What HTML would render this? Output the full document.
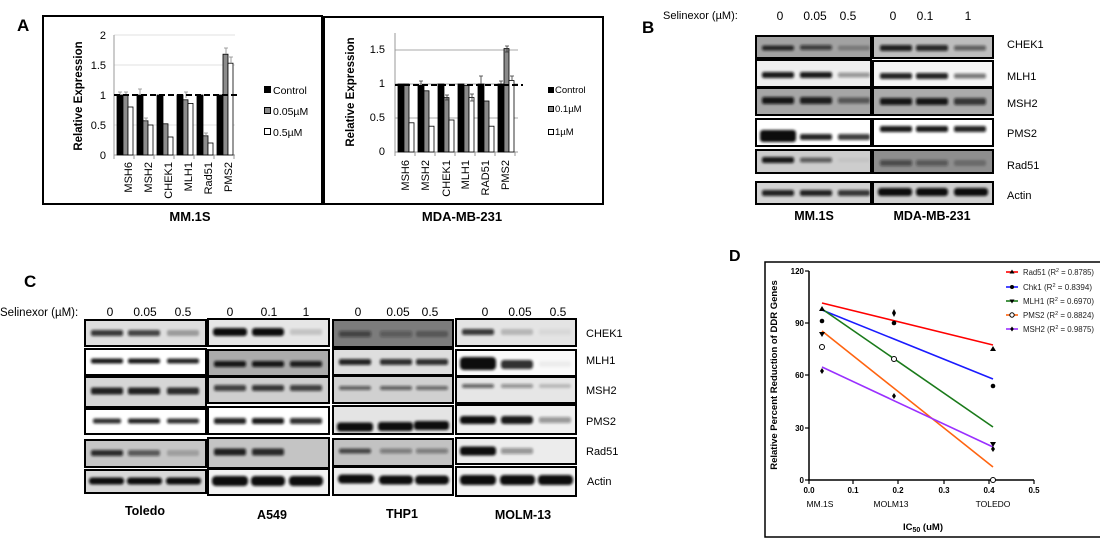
<!DOCTYPE html>
<html><head><meta charset="utf-8"><style>
html,body{margin:0;padding:0;background:#fff;}
svg{display:block;font-family:"Liberation Sans",Arial,sans-serif;}
</style></head><body>
<svg width="1100" height="538" viewBox="0 0 1100 538" xmlns="http://www.w3.org/2000/svg">
<defs>
<filter id="bl" x="-20%" y="-80%" width="140%" height="260%"><feGaussianBlur stdDeviation="1.2"/></filter>
</defs>
<rect width="1100" height="538" fill="#fff"/>

<!-- ============ PANEL A ============ -->
<text x="17" y="31" font-size="17" font-weight="bold">A</text>
<rect x="43" y="16" width="279" height="188" fill="none" stroke="#000" stroke-width="2"/>
<rect x="324" y="17" width="279" height="187" fill="none" stroke="#000" stroke-width="2"/>

<!-- left chart -->
<g stroke="#e2e2e2" stroke-width="1">
<line x1="114" y1="35" x2="235" y2="35"/><line x1="114" y1="65" x2="235" y2="65"/><line x1="114" y1="125" x2="235" y2="125"/>
</g>
<line x1="114" y1="35" x2="114" y2="155" stroke="#999" stroke-width="1"/>
<line x1="114" y1="155" x2="235" y2="155" stroke="#999" stroke-width="1"/>
<g stroke="#999"><line x1="114" y1="155" x2="114" y2="159"/><line x1="134" y1="155" x2="134" y2="159"/><line x1="154" y1="155" x2="154" y2="159"/><line x1="174" y1="155" x2="174" y2="159"/><line x1="194" y1="155" x2="194" y2="159"/><line x1="214" y1="155" x2="214" y2="159"/><line x1="234" y1="155" x2="234" y2="159"/></g>
<g stroke="#000" stroke-width="0.8">
<rect x="117" y="95" width="6" height="60" fill="#000"/><rect x="123" y="95" width="5" height="60" fill="#8c8c8c"/><rect x="128" y="107" width="5" height="48" fill="#fff"/>
<rect x="137" y="95" width="6" height="60" fill="#000"/><rect x="143" y="120.8" width="5" height="34.2" fill="#8c8c8c"/><rect x="148" y="125" width="5" height="30" fill="#fff"/>
<rect x="157" y="95" width="6" height="60" fill="#000"/><rect x="163" y="123.8" width="5" height="31.2" fill="#8c8c8c"/><rect x="168" y="137" width="5" height="18" fill="#fff"/>
<rect x="177" y="95" width="6" height="60" fill="#000"/><rect x="183" y="99.8" width="5" height="55.2" fill="#8c8c8c"/><rect x="188" y="103.4" width="5" height="51.6" fill="#fff"/>
<rect x="197" y="95" width="6" height="60" fill="#000"/><rect x="203" y="135.8" width="5" height="19.2" fill="#8c8c8c"/><rect x="208" y="143" width="5" height="12" fill="#fff"/>
<rect x="217" y="95" width="6" height="60" fill="#000"/><rect x="223" y="54.2" width="5" height="100.8" fill="#8c8c8c"/><rect x="228" y="63.2" width="5" height="91.8" fill="#fff"/>
</g>
<g stroke="#888" stroke-width="0.8" fill="none">
<path d="M118 92h4M120 92v3M124 92h4M126 92v3M138 89h4M140 89v6M184 92h4M186 92v6M224 48h4M226 48v6M229 57h4M231 57v6M144 118h4M146 118v3M204 133h4M206 133v3"/>
</g>
<line x1="114" y1="95" x2="240" y2="95" stroke="#000" stroke-width="2" stroke-dasharray="6,3"/>
<g font-size="11" text-anchor="end">
<text x="106" y="39">2</text><text x="106" y="69">1.5</text><text x="106" y="99">1</text><text x="106" y="129">0.5</text><text x="106" y="159">0</text>
</g>
<text transform="translate(82,96) rotate(-90)" font-size="11.5" font-weight="bold" text-anchor="middle">Relative Expression</text>
<g font-size="11" text-anchor="end">
<text transform="translate(132,162) rotate(-90)">MSH6</text>
<text transform="translate(152,162) rotate(-90)">MSH2</text>
<text transform="translate(172,162) rotate(-90)">CHEK1</text>
<text transform="translate(192,162) rotate(-90)">MLH1</text>
<text transform="translate(212,162) rotate(-90)">Rad51</text>
<text transform="translate(232,162) rotate(-90)">PMS2</text>
</g>
<rect x="264" y="86" width="7" height="7" fill="#000"/>
<rect x="264.5" y="107.5" width="6" height="6" fill="#8c8c8c" stroke="#000" stroke-width="1"/>
<rect x="264.5" y="128.5" width="6" height="6" fill="#fff" stroke="#000" stroke-width="1"/>
<g font-size="10.5"><text x="273" y="94">Control</text><text x="273" y="115">0.05µM</text><text x="273" y="136">0.5µM</text></g>

<!-- right chart -->
<g stroke="#a8a8a8" stroke-width="1">
<line x1="395" y1="50" x2="518" y2="50"/><line x1="395" y1="84" x2="518" y2="84"/><line x1="395" y1="118" x2="518" y2="118"/>
</g>
<line x1="395" y1="33" x2="395" y2="152" stroke="#999" stroke-width="1"/>
<line x1="395" y1="152" x2="518" y2="152" stroke="#999" stroke-width="1"/>
<g stroke="#999"><line x1="395" y1="152" x2="395" y2="156"/><line x1="415" y1="152" x2="415" y2="156"/><line x1="435" y1="152" x2="435" y2="156"/><line x1="455" y1="152" x2="455" y2="156"/><line x1="475" y1="152" x2="475" y2="156"/><line x1="495" y1="152" x2="495" y2="156"/><line x1="515" y1="152" x2="515" y2="156"/></g>
<g stroke="#000" stroke-width="0.8">
<rect x="398" y="84" width="6" height="68" fill="#000"/><rect x="404" y="84" width="5" height="68" fill="#8a8a8a"/><rect x="409" y="122.8" width="5" height="29.2" fill="#fff"/>
<rect x="418" y="85.4" width="6" height="66.6" fill="#000"/><rect x="424" y="90.8" width="5" height="61.2" fill="#8a8a8a"/><rect x="429" y="126.2" width="5" height="25.8" fill="#fff"/>
<rect x="438" y="84" width="6" height="68" fill="#000"/><rect x="444" y="97.6" width="5" height="54.4" fill="#8a8a8a"/><rect x="449" y="120" width="5" height="32" fill="#fff"/>
<rect x="458" y="84" width="6" height="68" fill="#000"/><rect x="464" y="85.4" width="5" height="66.6" fill="#8a8a8a"/><rect x="469" y="97.6" width="5" height="54.4" fill="#fff"/>
<rect x="478" y="84" width="6" height="68" fill="#000"/><rect x="484" y="101" width="5" height="51" fill="#8a8a8a"/><rect x="489" y="126.2" width="5" height="25.8" fill="#fff"/>
<rect x="498" y="84" width="6" height="68" fill="#000"/><rect x="504" y="48.6" width="5" height="103.4" fill="#8a8a8a"/><rect x="509" y="80.6" width="5" height="71.4" fill="#fff"/>
</g>
<g stroke="#333" stroke-width="0.8" fill="none">
<path d="M419 81h4M421 81v4M479 76h4M481 76v8M505 46h4M505 52h4M507 46v6M510 76h4M512 76v5M499 81h4M501 81v3M445 95h4M445 100h4M447 95v5M470 94h4M470 101h4M472 94v7"/>
</g>
<line x1="395" y1="85" x2="523" y2="85" stroke="#000" stroke-width="2" stroke-dasharray="6,3"/>
<g font-size="11" text-anchor="end">
<text x="385" y="53">1.5</text><text x="385" y="87">1</text><text x="385" y="121">0.5</text><text x="385" y="155">0</text>
</g>
<text transform="translate(354,92) rotate(-90)" font-size="11.5" font-weight="bold" text-anchor="middle">Relative Expression</text>
<g font-size="11" text-anchor="end">
<text transform="translate(409,160) rotate(-90)">MSH6</text>
<text transform="translate(429,160) rotate(-90)">MSH2</text>
<text transform="translate(450,160) rotate(-90)">CHEK1</text>
<text transform="translate(469,160) rotate(-90)">MLH1</text>
<text transform="translate(489,160) rotate(-90)">RAD51</text>
<text transform="translate(509,160) rotate(-90)">PMS2</text>
</g>
<rect x="548" y="87" width="6" height="6" fill="#000"/>
<rect x="548.5" y="106.5" width="5" height="5" fill="#8a8a8a" stroke="#000" stroke-width="1"/>
<rect x="548.5" y="129.5" width="5" height="5" fill="#fff" stroke="#000" stroke-width="1"/>
<g font-size="9.5"><text x="555" y="93">Control</text><text x="555" y="112">0.1µM</text><text x="555" y="135">1µM</text></g>

<g font-size="13" font-weight="bold" text-anchor="middle">
<text x="190" y="221">MM.1S</text><text x="462" y="221">MDA-MB-231</text>
</g>

<!-- ============ PANEL B ============ -->
<text x="642" y="33" font-size="17" font-weight="bold">B</text>
<text x="663" y="19" font-size="11">Selinexor (µM):</text>
<g font-size="12" text-anchor="middle">
<text x="780" y="20">0</text><text x="815" y="20">0.05</text><text x="848" y="20">0.5</text>
<text x="893" y="20">0</text><text x="925" y="20">0.1</text><text x="968" y="20">1</text>
</g>
<g stroke="#000" stroke-width="2">
<rect x="756" y="36" width="115" height="22" fill="#a2a2a2"/><rect x="873" y="36" width="120" height="22" fill="#bdbdbd"/>
<rect x="756" y="60" width="115" height="27" fill="#efefef"/><rect x="873" y="61" width="120" height="26" fill="#f6f6f6"/>
<rect x="756" y="88" width="115" height="27" fill="#a6a6a6"/><rect x="873" y="88" width="120" height="27" fill="#ababab"/>
<rect x="756" y="119" width="115" height="27" fill="#fff"/><rect x="873" y="119" width="120" height="27" fill="#fff"/>
<rect x="756" y="150" width="115" height="23" fill="#cdcdcd"/><rect x="873" y="150" width="120" height="23" fill="#8e8e8e"/>
<rect x="756" y="182" width="115" height="22" fill="#d3d3d3"/><rect x="873" y="182" width="120" height="22" fill="#cfcfcf"/>
</g>
<g fill="#111" filter="url(#bl)">
<rect x="762" y="45.5" width="32" height="5" rx="2" opacity=".85"/><rect x="800" y="45" width="32" height="5" rx="2" opacity=".7"/><rect x="838" y="45.5" width="32" height="5" rx="2" opacity=".25"/>
<rect x="880" y="45" width="32" height="6" rx="2" opacity=".9"/><rect x="916" y="45" width="32" height="6" rx="2" opacity=".85"/><rect x="954" y="45.5" width="32" height="5" rx="2" opacity=".55"/>
<rect x="762" y="72" width="32" height="6" rx="2" opacity=".95"/><rect x="800" y="72" width="32" height="6" rx="2" opacity=".95"/><rect x="838" y="72.5" width="32" height="5" rx="2" opacity=".4"/>
<rect x="880" y="73" width="32" height="6" rx="2" opacity=".9"/><rect x="916" y="73" width="32" height="6" rx="2" opacity=".9"/><rect x="954" y="73.5" width="32" height="5" rx="2" opacity=".55"/>
<rect x="762" y="97" width="32" height="7" rx="2" opacity=".95"/><rect x="800" y="97" width="32" height="7" rx="2" opacity=".9"/><rect x="838" y="97.5" width="32" height="6" rx="2" opacity=".55"/>
<rect x="880" y="98" width="32" height="7" rx="2" opacity=".95"/><rect x="916" y="98" width="32" height="7" rx="2" opacity=".95"/><rect x="954" y="98" width="32" height="7" rx="2" opacity=".75"/>
<rect x="760" y="130" width="36" height="12" rx="3" opacity="1"/><rect x="800" y="134" width="32" height="6" rx="2" opacity=".9"/><rect x="838" y="134" width="32" height="6" rx="2" opacity=".8"/>
<rect x="880" y="126" width="32" height="6" rx="2" opacity=".95"/><rect x="916" y="126" width="32" height="6" rx="2" opacity=".95"/><rect x="954" y="126" width="32" height="6" rx="2" opacity=".9"/>
<rect x="762" y="157" width="32" height="6" rx="2" opacity=".95"/><rect x="800" y="157.5" width="32" height="5" rx="2" opacity=".6"/><rect x="838" y="158" width="32" height="4" rx="2" opacity=".05"/>
<rect x="880" y="160" width="32" height="6" rx="2" opacity=".55"/><rect x="916" y="160" width="32" height="6" rx="2" opacity=".45"/><rect x="954" y="160" width="32" height="6" rx="2" opacity=".25"/>
<rect x="762" y="190" width="32" height="6" rx="2" opacity=".9"/><rect x="800" y="190" width="32" height="6" rx="2" opacity=".9"/><rect x="838" y="190" width="32" height="6" rx="2" opacity=".8"/>
<rect x="878" y="188" width="34" height="8" rx="3" opacity="1"/><rect x="916" y="188" width="32" height="8" rx="3" opacity="1"/><rect x="954" y="188" width="34" height="8" rx="3" opacity="1"/>
</g>
<g font-size="11">
<text x="1007" y="48">CHEK1</text><text x="1007" y="80">MLH1</text><text x="1007" y="107">MSH2</text>
<text x="1007" y="137">PMS2</text><text x="1007" y="169">Rad51</text><text x="1007" y="199">Actin</text>
</g>
<g font-size="12.5" font-weight="bold" text-anchor="middle">
<text x="814" y="220">MM.1S</text><text x="932" y="220">MDA-MB-231</text>
</g>

<!-- ============ PANEL C ============ -->
<text x="24" y="287" font-size="17" font-weight="bold">C</text>
<text x="0" y="316" font-size="11.5">Selinexor (µM):</text>
<g font-size="12" text-anchor="middle">
<text x="110" y="316">0</text><text x="145" y="316">0.05</text><text x="183" y="316">0.5</text>
<text x="230" y="316">0</text><text x="269" y="316">0.1</text><text x="306" y="316">1</text>
<text x="358" y="316">0</text><text x="398" y="316">0.05</text><text x="430" y="316">0.5</text>
<text x="485" y="316">0</text><text x="520" y="316">0.05</text><text x="558" y="316">0.5</text>
</g>
<g stroke="#000" stroke-width="2">
<rect x="85" y="320" width="121" height="26" fill="#dedede"/><rect x="208" y="319" width="121" height="27" fill="#e6e6e6"/><rect x="333" y="320" width="120" height="27" fill="#7c7c7c"/><rect x="456" y="319" width="120" height="27" fill="#e4e4e4"/>
<rect x="85" y="349" width="121" height="26" fill="#fff"/><rect x="208" y="350" width="121" height="26" fill="#ababab"/><rect x="333" y="349" width="120" height="26" fill="#dedede"/><rect x="456" y="350" width="120" height="26" fill="#fafafa"/>
<rect x="85" y="377" width="121" height="30" fill="#d6d6d6"/><rect x="208" y="377" width="121" height="26" fill="#cfcfcf"/><rect x="333" y="376" width="120" height="27" fill="#d0d0d0"/><rect x="456" y="377" width="120" height="26" fill="#e6e6e6"/>
<rect x="85" y="409" width="121" height="25" fill="#fff"/><rect x="208" y="407" width="121" height="27" fill="#fff"/><rect x="333" y="406" width="120" height="28" fill="#e4e4e4"/><rect x="456" y="405" width="120" height="29" fill="#f0f0f0"/>
<rect x="85" y="440" width="121" height="27" fill="#c6c6c6"/><rect x="208" y="438" width="121" height="30" fill="#c4c4c4"/><rect x="333" y="439" width="120" height="27" fill="#c2c2c2"/><rect x="456" y="438" width="120" height="26" fill="#ececec"/>
<rect x="85" y="470" width="121" height="23" fill="#d8d8d8"/><rect x="208" y="469" width="121" height="26" fill="#f2f2f2"/><rect x="333" y="467" width="120" height="28" fill="#efefef"/><rect x="456" y="467" width="120" height="29" fill="#f4f4f4"/>
</g>
<g fill="#111" filter="url(#bl)">
<!-- Toledo -->
<rect x="91" y="330" width="32" height="6" rx="2" opacity=".8"/><rect x="128" y="330" width="32" height="6" rx="2" opacity=".75"/><rect x="167" y="330" width="32" height="6" rx="2" opacity=".3"/>
<rect x="91" y="358.5" width="32" height="5" rx="2" opacity=".95"/><rect x="128" y="358.5" width="32" height="5" rx="2" opacity=".95"/><rect x="167" y="358.5" width="32" height="5" rx="2" opacity=".9"/>
<rect x="91" y="387.5" width="32" height="7" rx="2" opacity=".9"/><rect x="128" y="387.5" width="32" height="7" rx="2" opacity=".9"/><rect x="167" y="387.5" width="32" height="7" rx="2" opacity=".85"/>
<rect x="93" y="418.5" width="28" height="5" rx="2" opacity=".85"/><rect x="128" y="418.5" width="32" height="5" rx="2" opacity=".9"/><rect x="167" y="418.5" width="32" height="5" rx="2" opacity=".85"/>
<rect x="91" y="450" width="32" height="6" rx="2" opacity=".85"/><rect x="128" y="450" width="32" height="6" rx="2" opacity=".6"/><rect x="167" y="450" width="32" height="6" rx="2" opacity=".2"/>
<rect x="89" y="477.5" width="35" height="7" rx="3" opacity="1"/><rect x="127" y="477.5" width="35" height="7" rx="3" opacity="1"/><rect x="166" y="477.5" width="35" height="7" rx="3" opacity="1"/>
<!-- A549 -->
<rect x="213" y="328" width="34" height="8" rx="3" opacity="1"/><rect x="252" y="328" width="32" height="8" rx="3" opacity="1"/><rect x="290" y="329" width="32" height="6" rx="2" opacity=".15"/>
<rect x="214" y="361" width="32" height="6" rx="2" opacity=".95"/><rect x="252" y="361" width="32" height="6" rx="2" opacity=".95"/><rect x="290" y="361" width="32" height="6" rx="2" opacity=".9"/>
<rect x="214" y="385" width="32" height="6" rx="2" opacity=".75"/><rect x="252" y="385" width="32" height="6" rx="2" opacity=".8"/><rect x="290" y="385" width="32" height="6" rx="2" opacity=".75"/>
<rect x="214" y="418" width="32" height="6" rx="2" opacity=".9"/><rect x="252" y="418" width="32" height="6" rx="2" opacity=".95"/><rect x="290" y="418" width="32" height="6" rx="2" opacity=".85"/>
<rect x="214" y="448.5" width="32" height="7" rx="2" opacity=".9"/><rect x="252" y="448.5" width="32" height="7" rx="2" opacity=".85"/>
<rect x="212" y="476" width="36" height="10" rx="4" opacity="1"/><rect x="251" y="476" width="34" height="10" rx="4" opacity="1"/><rect x="289" y="476" width="34" height="10" rx="4" opacity="1"/>
<!-- THP1 -->
<rect x="339" y="331" width="32" height="6" rx="2" opacity=".55"/><rect x="380" y="331" width="32" height="6" rx="2" opacity=".35"/><rect x="416" y="331" width="32" height="6" rx="2" opacity=".3"/>
<rect x="339" y="359" width="32" height="6" rx="2" opacity=".9"/><rect x="380" y="359" width="32" height="6" rx="2" opacity=".85"/><rect x="416" y="359" width="32" height="6" rx="2" opacity=".85"/>
<rect x="339" y="386" width="32" height="4" rx="2" opacity=".6"/><rect x="380" y="386" width="32" height="4" rx="2" opacity=".6"/><rect x="416" y="386" width="32" height="4" rx="2" opacity=".55"/>
<rect x="337" y="422.5" width="36" height="9" rx="3" opacity="1"/><rect x="378" y="422" width="35" height="9" rx="3" opacity="1"/><rect x="414" y="421" width="35" height="9" rx="3" opacity="1"/>
<rect x="339" y="448.5" width="32" height="5" rx="2" opacity=".7"/><rect x="380" y="448.5" width="32" height="5" rx="2" opacity=".4"/><rect x="416" y="448.5" width="32" height="5" rx="2" opacity=".4"/>
<rect x="338" y="474.5" width="36" height="9" rx="4" opacity="1"/><rect x="379" y="475.5" width="34" height="9" rx="4" opacity="1"/><rect x="415" y="475.5" width="34" height="9" rx="4" opacity="1"/>
<!-- MOLM-13 -->
<rect x="462" y="329" width="32" height="6" rx="2" opacity=".8"/><rect x="501" y="329" width="32" height="6" rx="2" opacity=".2"/><rect x="539" y="329" width="32" height="6" rx="2" opacity=".05"/>
<rect x="460" y="357" width="36" height="13" rx="4" opacity="1"/><rect x="501" y="360" width="32" height="9" rx="3" opacity=".85"/><rect x="539" y="361" width="32" height="6" rx="2" opacity=".05"/>
<rect x="462" y="384" width="32" height="4" rx="2" opacity=".6"/><rect x="501" y="384" width="32" height="4" rx="2" opacity=".4"/><rect x="539" y="384" width="32" height="4" rx="2" opacity=".2"/>
<rect x="460" y="416" width="36" height="8" rx="3" opacity="1"/><rect x="501" y="416" width="32" height="8" rx="3" opacity=".95"/><rect x="539" y="417" width="32" height="6" rx="2" opacity=".4"/>
<rect x="460" y="446.5" width="36" height="9" rx="3" opacity="1"/><rect x="501" y="448" width="32" height="6" rx="2" opacity=".4"/>
<rect x="460" y="475" width="36" height="10" rx="4" opacity="1"/><rect x="500" y="475" width="35" height="10" rx="4" opacity="1"/><rect x="538" y="475" width="35" height="10" rx="4" opacity="1"/>
</g>
<g font-size="11">
<text x="586" y="337">CHEK1</text><text x="586" y="364">MLH1</text><text x="586" y="394">MSH2</text>
<text x="586" y="425">PMS2</text><text x="586" y="455">Rad51</text><text x="587" y="485">Actin</text>
</g>
<g font-size="12.5" font-weight="bold" text-anchor="middle">
<text x="145" y="515">Toledo</text><text x="272" y="519">A549</text><text x="402" y="518">THP1</text><text x="523" y="519">MOLM-13</text>
</g>

<!-- ============ PANEL D ============ -->
<text x="729" y="261" font-size="16" font-weight="bold">D</text>
<rect x="765" y="262" width="340" height="275" fill="none" stroke="#000" stroke-width="1.5"/>
<line x1="809" y1="271" x2="809" y2="480" stroke="#000" stroke-width="1.5"/>
<line x1="808" y1="480" x2="1034" y2="480" stroke="#000" stroke-width="1.5"/>
<g stroke="#000" stroke-width="1.2">
<line x1="805" y1="271" x2="809" y2="271"/><line x1="805" y1="323" x2="809" y2="323"/><line x1="805" y1="375" x2="809" y2="375"/><line x1="805" y1="428" x2="809" y2="428"/><line x1="805" y1="480" x2="809" y2="480"/>
<line x1="853" y1="480" x2="853" y2="484"/><line x1="898" y1="480" x2="898" y2="484"/><line x1="944" y1="480" x2="944" y2="484"/><line x1="989" y1="480" x2="989" y2="484"/><line x1="1034" y1="480" x2="1034" y2="484"/><line x1="809" y1="480" x2="809" y2="484"/>
</g>
<g font-size="8" text-anchor="end" font-weight="bold">
<text x="804" y="274">120</text><text x="804" y="326">90</text><text x="804" y="378">60</text><text x="804" y="431">30</text><text x="804" y="483">0</text>
</g>
<g font-size="8" text-anchor="middle" font-weight="bold">
<text x="809" y="493">0.0</text><text x="853" y="493">0.1</text><text x="898" y="493">0.2</text><text x="944" y="493">0.3</text><text x="989" y="493">0.4</text><text x="1034" y="493">0.5</text>
</g>
<g font-size="8.5" text-anchor="middle">
<text x="820" y="507">MM.1S</text><text x="891" y="507">MOLM13</text><text x="993" y="507">TOLEDO</text>
</g>
<text x="923" y="530" font-size="9.5" font-weight="bold" text-anchor="middle">IC<tspan font-size="7" dy="2">50</tspan><tspan dy="-2"> (uM)</tspan></text>
<text transform="translate(777,375) rotate(-90)" font-size="9.5" font-weight="bold" text-anchor="middle">Relative Percent Reduction of DDR Genes</text>

<g stroke-width="1.6">
<line x1="822" y1="303" x2="993" y2="345" stroke="#ff0000"/>
<line x1="822" y1="310" x2="993" y2="379" stroke="#1a1aff"/>
<line x1="822" y1="309" x2="993" y2="427" stroke="#1a7a1a"/>
<line x1="822" y1="331" x2="993" y2="467" stroke="#ff6410"/>
<line x1="822" y1="367" x2="993" y2="447" stroke="#9a30ff"/>
</g>
<g fill="#000">
<path d="M822 306l3 5h-6z"/><circle cx="822" cy="321" r="2.3"/><path d="M822 337l3 -5h-6z"/>
<circle cx="822" cy="347" r="2.5" fill="#fff" stroke="#000" stroke-width="1"/><path d="M822 368l2 3-2 3-2-3z"/>
<path d="M894 309l2 4-2 4-2-4z"/><circle cx="894" cy="323" r="2.3"/>
<circle cx="894" cy="359" r="2.5" fill="#fff" stroke="#000" stroke-width="1"/><path d="M894 393l2 3-2 3-2-3z"/>
<path d="M993 346l3 5h-6z"/><circle cx="993" cy="386" r="2.3"/><path d="M993 447l3 -5h-6z"/><path d="M993 446l2 3-2 3-2-3z"/>
<circle cx="993" cy="480" r="2.5" fill="#fff" stroke="#000" stroke-width="1"/>
</g>
<!-- legend -->
<g stroke-width="1.6">
<line x1="1006" y1="272" x2="1018" y2="272" stroke="#ff0000"/>
<line x1="1006" y1="287" x2="1018" y2="287" stroke="#1a1aff"/>
<line x1="1006" y1="301" x2="1018" y2="301" stroke="#1a7a1a"/>
<line x1="1006" y1="315" x2="1018" y2="315" stroke="#ff6410"/>
<line x1="1006" y1="329" x2="1018" y2="329" stroke="#9a30ff"/>
</g>
<g fill="#000">
<path d="M1012 269.5l2.5 4h-5z"/><circle cx="1012" cy="287" r="2"/><path d="M1012 303.5l2.5 -4h-5z"/>
<circle cx="1012" cy="315" r="2.2" fill="#fff" stroke="#000" stroke-width="1"/><path d="M1012 326.5l1.8 2.5-1.8 2.5-1.8-2.5z"/>
</g>
<g font-size="8" fill="#222">
<text x="1023" y="275" textLength="71" lengthAdjust="spacingAndGlyphs">Rad51 (R<tspan font-size="5.5" dy="-3">2</tspan><tspan dy="3"> = 0.8785)</tspan></text>
<text x="1023" y="290" textLength="69" lengthAdjust="spacingAndGlyphs">Chk1 (R<tspan font-size="5.5" dy="-3">2</tspan><tspan dy="3"> = 0.8394)</tspan></text>
<text x="1023" y="304" textLength="71" lengthAdjust="spacingAndGlyphs">MLH1 (R<tspan font-size="5.5" dy="-3">2</tspan><tspan dy="3"> = 0.6970)</tspan></text>
<text x="1023" y="318" textLength="71" lengthAdjust="spacingAndGlyphs">PMS2 (R<tspan font-size="5.5" dy="-3">2</tspan><tspan dy="3"> = 0.8824)</tspan></text>
<text x="1023" y="332" textLength="71" lengthAdjust="spacingAndGlyphs">MSH2 (R<tspan font-size="5.5" dy="-3">2</tspan><tspan dy="3"> = 0.9875)</tspan></text>
</g>
</svg>
</body></html>
